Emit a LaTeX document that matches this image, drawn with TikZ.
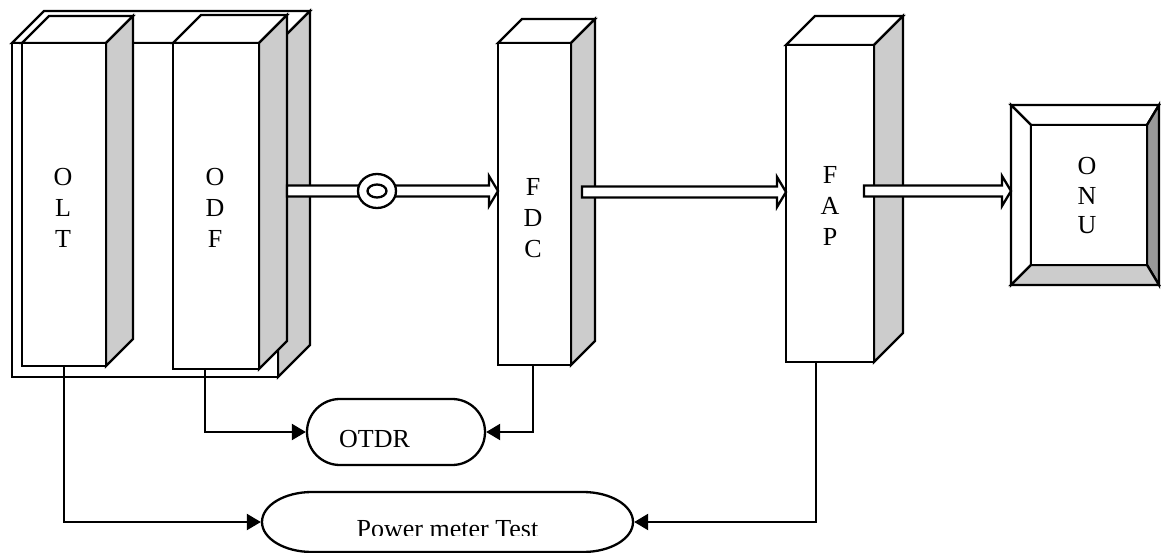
\documentclass[tikz,border=0pt]{standalone}
\usepackage{fontspec}
\setmainfont{Liberation Serif}
\usetikzlibrary{calc,arrows.meta,shapes.geometric}
\definecolor{sidegray}{HTML}{CCCCCC}
\definecolor{darkbevel}{HTML}{999999}
\newcommand\mycube[6]{%
  \filldraw[fill=white] (#2,#3) -- ({#2+#6},{#3-#6}) -- ({#4+#6},{#3-#6}) -- (#4,#3) -- cycle;
  \filldraw[fill=sidegray] (#4,#3) -- ({#4+#6},{#3-#6}) -- ({#4+#6},{#5-#6}) -- (#4,#5) -- cycle;
  \node[face, minimum width={#4-#2}, minimum height={#5-#3}] (#1) at ({(#2+#4)/2},{(#3+#5)/2}) {};
}
\newcommand\hollowarrow[2]{%
  \filldraw[fill=white] let \p1=(#1), \p2=(#2) in
    (\x1,\y1+5.5pt) -- (\x2-9pt,\y1+5.5pt) -- (\x2-9pt,\y1+15pt) -- (\x2,\y1)
    -- (\x2-9pt,\y1-15pt) -- (\x2-9pt,\y1-5.5pt) -- (\x1,\y1-5.5pt) -- cycle;
}
\tikzset{
  face/.style={draw, fill=white, inner sep=0pt, outer sep=0pt},
  lbl/.style={font=\fontsize{26}{31}\selectfont, align=center, inner sep=0pt},
  conn/.style={-{Triangle[length=14pt,width=16pt]}},
}
\begin{document}
\begin{tikzpicture}[x=1pt,y=-1pt,line width=2.3pt,line join=miter]
\useasboundingbox (0,0) rectangle (1161,553);
% cabinet and equipment
\mycube{cab}{12}{43}{278}{377}{32}
\mycube{olt}{22}{43}{106}{366}{27}
\mycube{odf}{173}{43}{259}{369}{28}
\mycube{fdc}{498}{43}{571}{365}{24}
\mycube{fap}{786}{45}{874}{362}{29}
% ONU
\node[face, minimum width=148, minimum height=180] (onu) at (1085,195) {};
\filldraw[fill=white] (1011,105) -- (1159,105) -- (1147,125) -- (1031,125) -- cycle;
\filldraw[fill=white] (1011,105) -- (1031,125) -- (1031,265) -- (1011,285) -- cycle;
\filldraw[fill=darkbevel] (1159,105) -- (1159,285) -- (1147,265) -- (1147,125) -- cycle;
\filldraw[fill=sidegray] (1011,285) -- (1159,285) -- (1147,265) -- (1031,265) -- cycle;
\node[face, minimum width=116, minimum height=140] (onuin) at (1089,195) {};
% hollow arrows
\coordinate (a1s) at (287,191);
\coordinate (a2s) at (582,192);
\coordinate (a3s) at (864,191);
\hollowarrow{a1s}{fdc.west |- a1s}
\hollowarrow{a2s}{fap.west |- a2s}
\hollowarrow{a3s}{onu.west |- a3s}
\node[draw, ellipse, fill=white, minimum width=38, minimum height=34, inner sep=0pt] (ring) at (377,191) {};
\node[draw, ellipse, minimum width=19, minimum height=13, inner sep=0pt] (ringin) at (ring.center) {};
% OTDR
\node[draw, fill=white, rounded corners=32.9pt, minimum width=178, minimum height=66, inner sep=0pt] (otdr) at (396,432) {};
\node[font=\fontsize{26}{31}\selectfont, anchor=base west, inner sep=0pt] (otdrtxt) at (338,447) {OTDR};
% Power meter
\node[minimum width=371, minimum height=60, inner sep=0pt] (pm) at (447.5,522) {};
\draw (312,492) -- (583,492) .. controls (610.6,492) and (633,505.4) .. (633,522)
  .. controls (633,538.6) and (610.6,552) .. (583,552) -- (312,552)
  .. controls (284.4,552) and (262,538.6) .. (262,522)
  .. controls (262,505.4) and (284.4,492) .. (312,492) -- cycle;
\begin{scope}
\clip (0,0) rectangle (1161,535);
\node[font=\fontsize{26}{31}\selectfont, anchor=base, inner sep=0pt] (pmtxt) at (447.5,537) {Power meter Test};
\end{scope}
% connectors
\coordinate (odfout) at ([xshift=-11pt]odf.south);
\coordinate (fdcout) at ([xshift=-1.5pt]fdc.south);
\coordinate (fapout) at ([xshift=-14pt]fap.south);
\draw[conn] (olt.south) |- (pm.west);
\draw[conn] (odfout) |- (otdr.west);
\draw[conn] (fdcout) |- (otdr.east);
\draw[conn] (fapout) |- (pm.east);
% labels
\node[lbl] (oltlbl) at (63,207.5) {O\\L\\T};
\node[lbl] (odflbl) at (215,207.5) {O\\D\\F};
\node[lbl] (fdclbl) at (533,218.5) {F\\D\\C};
\node[lbl] (faplbl) at (830,205.5) {F\\A\\P};
\node[lbl, font=\fontsize{26}{29.5}\selectfont] (onulbl) at (1087,196) {O\\N\\U};
\end{tikzpicture}
\end{document}
